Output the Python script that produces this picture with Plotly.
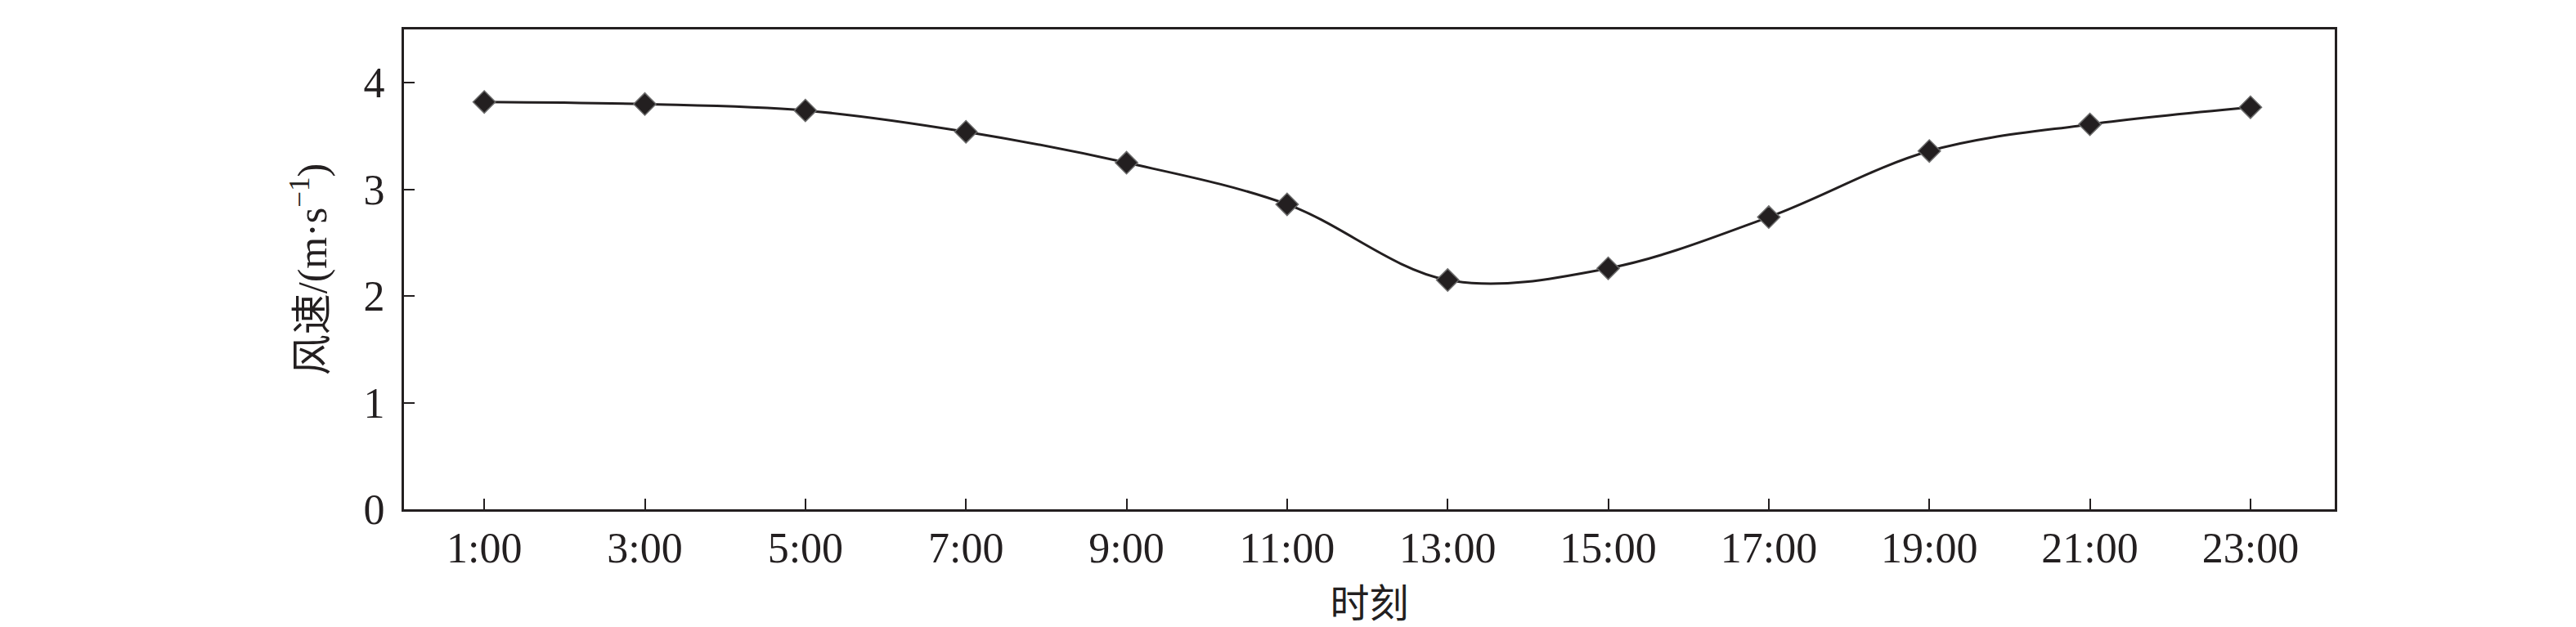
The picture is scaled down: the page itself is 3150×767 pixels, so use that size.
import plotly.graph_objects as go

# hours of day and wind speed
hours = [1, 3, 5, 7, 9, 11, 13, 15, 17, 19, 21, 23]
hour_labels = ["1:00", "3:00", "5:00", "7:00", "9:00", "11:00",
               "13:00", "15:00", "17:00", "19:00", "21:00", "23:00"]
wind_speed = [3.82, 3.80, 3.74, 3.54, 3.25, 2.86, 2.15, 2.26, 2.74, 3.36, 3.61, 3.77]
y_ticks = [0, 1, 2, 3, 4]

ink = "#231f20"
font_family = "Liberation Serif, Times New Roman, Noto Sans CJK SC, serif"

fig = go.Figure()

fig.add_trace(go.Scatter(
    x=hours,
    y=wind_speed,
    mode="lines+markers",
    line=dict(color=ink, width=3, shape="spline", smoothing=1.0),
    marker=dict(symbol="diamond", size=21, color=ink,
                line=dict(color="#6b6b6b", width=1.5)),
    showlegend=False,
    cliponaxis=False,
))

fig.update_layout(
    width=3150,
    height=767,
    margin=dict(l=486, r=303, t=28, b=152),
    paper_bgcolor="white",
    plot_bgcolor="white",
    font=dict(family=font_family, size=50, color=ink),
)

fig.update_xaxes(
    range=[0, 24.05],
    tickvals=hours,
    ticktext=hour_labels,
    ticks="inside",
    ticklen=13,
    tickwidth=2,
    tickcolor=ink,
    showline=True,
    linecolor=ink,
    linewidth=3,
    mirror=True,
    showgrid=False,
    zeroline=False,
    tickfont=dict(family=font_family, size=52, color=ink),
    title=dict(text="时刻", font=dict(family="Noto Sans CJK SC, serif", size=48, color=ink), standoff=6),
)

fig.update_yaxes(
    range=[0, 4.5],
    tickvals=y_ticks,
    ticks="inside",
    ticklen=13,
    tickwidth=2,
    tickcolor=ink,
    showline=True,
    linecolor=ink,
    linewidth=3,
    mirror=True,
    showgrid=False,
    zeroline=False,
    ticklabelstandoff=10,
    tickfont=dict(family=font_family, size=52, color=ink),
    title=dict(text="风速/(m·s<sup>−1</sup>)", font=dict(family=font_family, size=50, color=ink), standoff=30),
)

fig.write_html("out.html")
